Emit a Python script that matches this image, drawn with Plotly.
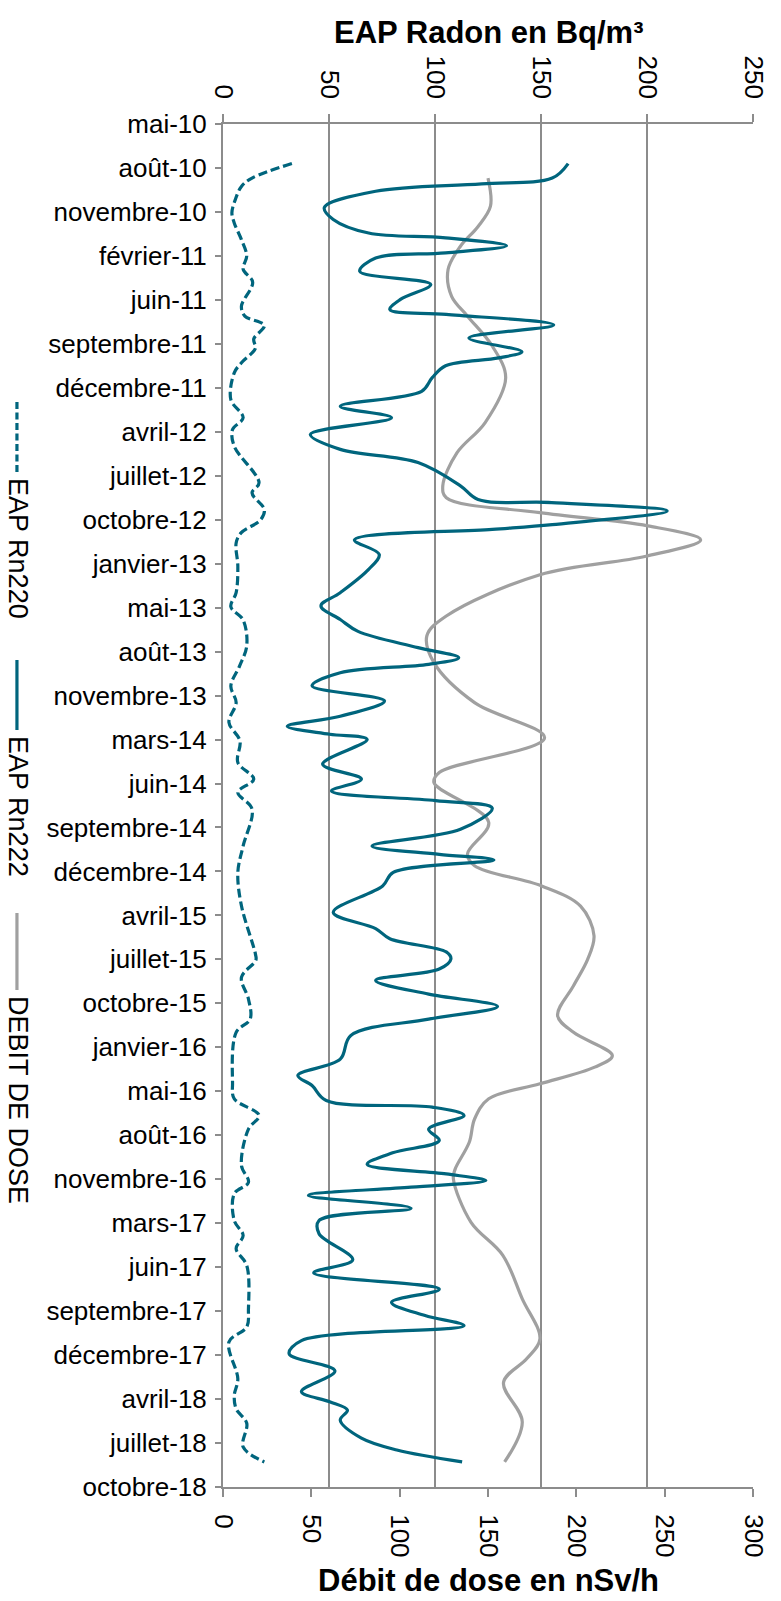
import plotly.graph_objects as go

# ---- axis labels (one every category step) ----
date_labels = ["mai-10", "août-10", "novembre-10", "février-11", "juin-11", "septembre-11",
               "décembre-11", "avril-12", "juillet-12", "octobre-12", "janvier-13", "mai-13",
               "août-13", "novembre-13", "mars-14", "juin-14", "septembre-14", "décembre-14",
               "avril-15", "juillet-15", "octobre-15", "janvier-16", "mai-16", "août-16",
               "novembre-16", "mars-17", "juin-17", "septembre-17", "décembre-17", "avril-18",
               "juillet-18", "octobre-18"]
date_pos = list(range(len(date_labels)))

# ---- EAP Rn220 (Bq/m3) : position on date axis, value ----
rn220_t = [0.90, 1.23, 1.42, 1.72, 2.02, 2.25, 2.63, 3.00, 3.30, 3.60, 4.14, 4.37, 4.58, 4.89, 5.10,
           5.43, 5.66, 6.27, 6.68, 6.95, 7.33, 8.16, 8.39, 8.77, 9.00, 9.30, 9.53, 10.06, 10.66,
           10.98, 11.28, 11.87, 12.33, 12.78, 13.16, 13.61, 14.03, 14.52, 14.90, 15.20, 15.58,
           16.42, 17.02, 17.78, 18.88, 19.02, 19.41, 19.90, 20.36, 20.66, 21.80, 22.17, 22.55,
           22.86, 23.69, 24.07, 24.33, 24.94, 25.28, 25.58, 25.96, 26.95, 27.36, 27.70, 28.54,
           28.92, 29.22, 29.55, 30.09, 30.43]
rn220_v = [32.5, 13.7, 8.7, 5.8, 4.2, 5.3, 8.7, 11.2, 9.5, 14.0, 8.7, 10.3, 19.5, 14.5, 15.3,
           8.7, 5.3, 3.7, 9.5, 4.5, 5.3, 17.0, 13.7, 19.5, 17.8, 8.5, 6.2, 7.0, 6.2,
           3.7, 9.5, 11.2, 7.8, 3.7, 6.2, 2.8, 8.0, 7.0, 14.5, 7.0, 13.7,
           9.5, 7.0, 8.7, 15.3, 15.5, 8.7, 12.0, 12.8, 6.2, 4.5, 5.3, 17.0,
           12.0, 8.7, 12.0, 5.3, 5.3, 9.5, 6.2, 11.2, 12.0, 11.2, 2.8, 7.0,
           5.3, 6.2, 11.2, 9.5, 19.5]

# ---- EAP Rn222 (Bq/m3) ----
rn222_t = [0.90, 1.23, 1.36, 1.53, 1.90, 2.17, 2.48, 2.59, 2.77, 2.93, 3.05, 3.35, 3.65, 3.99,
           4.22, 4.33, 4.57, 4.87, 5.18, 5.32, 5.50, 5.77, 6.08, 6.42, 6.68, 7.06, 7.40, 7.70,
           8.23, 8.54, 8.61, 8.80, 9.11, 9.22, 9.46, 9.79, 10.13, 10.66, 10.96, 11.27, 11.54,
           11.91, 12.14, 12.29, 12.48, 12.78, 13.12, 13.47, 13.70, 13.88, 14.00, 14.56, 14.90,
           15.17, 15.39, 15.56, 16.04, 16.42, 16.61, 16.74, 17.02, 17.33, 17.93, 18.30, 18.53,
           18.83, 18.99, 19.22, 19.48, 19.79, 20.07, 20.36, 20.73, 21.27, 21.64, 21.87, 22.21,
           22.36, 22.55, 22.86, 23.12, 23.40, 23.66, 23.88, 24.03, 24.18, 24.37, 24.66, 24.94,
           25.24, 25.83, 26.13, 26.50, 26.80, 27.10, 27.33, 27.67, 27.97, 28.36, 28.83, 29.06,
           29.25, 29.48, 29.89, 30.16, 30.43]
rn222_v = [162.8, 155.3, 122.0, 72.0, 47.8, 52.0, 68.7, 105.0, 133.7, 105.0, 72.0, 64.5, 98.0, 83.7,
           78.7, 105.3, 156.0, 116.0, 141.0, 130.0, 105.0, 98.7, 93.7, 55.3, 79.5, 41.2, 55.3, 92.0,
           112.0, 120.3, 155.0, 209.5, 155.3, 127.0, 62.0, 73.7, 68.7, 55.3, 46.2, 55.3, 63.7,
           92.0, 111.2, 97.0, 55.3, 42.0, 76.2, 55.3, 30.3, 50.3, 68.0, 47.0, 65.3,
           51.2, 100.3, 127.0, 112.0, 70.3, 102.0, 127.8, 80.3, 75.3, 52.0, 72.0, 78.7,
           105.3, 107.5, 102.0, 72.0, 97.0, 129.5, 97.0, 60.3, 55.3, 35.3, 42.0, 48.7,
           98.7, 113.7, 97.0, 102.0, 80.0, 68.0, 105.3, 124.0, 88.7, 40.3, 88.7, 45.3,
           45.3, 61.2, 42.8, 102.0, 79.5, 95.3, 113.7, 37.0, 31.2, 52.8, 37.0, 50.3,
           58.7, 55.3, 65.3, 82.0, 112.8]

# ---- Débit de dose (nSv/h) ----
dose_t = [1.23, 1.87, 2.33, 2.78, 3.31, 3.92, 4.37, 5.05, 5.77, 6.79, 7.48, 8.23, 8.50, 8.84, 9.14,
          9.46, 9.83, 10.25, 11.19, 11.64, 12.25, 13.16, 13.96, 14.75, 14.98, 15.88, 16.60, 16.87,
          17.33, 17.79, 18.46, 19.00, 19.60, 20.28, 20.66, 21.19, 21.45, 21.83, 22.17, 22.63,
          23.16, 23.77, 23.99, 24.98, 25.73, 26.72, 27.63, 28.08, 28.62, 29.52, 30.43]
dose_v = [150.0, 151.4, 144.4, 134.4, 127.4, 129.4, 138.4, 152.4, 160.0, 148.4, 132.4, 124.4, 126.4,
          179.4, 240.4, 270.4, 239.4, 179.4, 126.4, 115.4, 119.4, 142.4, 182.0, 122.4, 119.4, 150.4,
          138.4, 142.4, 180.4, 202.4, 210.0, 206.4, 198.4, 189.4, 198.4, 220.4, 210.4, 179.4, 150.4,
          142.4, 139.4, 131.4, 130.4, 140.4, 158.4, 169.4, 179.4, 172.0, 158.8, 169.4, 159.4]

bottom_ticks = [0, 50, 100, 150, 200, 250, 300]
top_ticks = [0, 50, 100, 150, 200, 250]

TEAL = "#00657D"
GREY = "#A0A0A0"
AXIS = "#8C8C8C"
FONT = "Liberation Sans"

W, H = 781, 1601
ML, MR, MT, MB = 223, 23, 124, 114
PW, PH = W - ML - MR, H - MT - MB


def px_x(px):
    return (px - ML) / PW


def px_y(py):
    return 1 - (py - MT) / PH


fig = go.Figure()
fig.add_trace(go.Scatter(x=dose_v, y=dose_t, xaxis="x", yaxis="y", mode="lines",
                         name="DEBIT DE DOSE", line=dict(color=GREY, width=3.2, shape="spline", smoothing=1.0)))
fig.add_trace(go.Scatter(x=rn222_v, y=rn222_t, xaxis="x2", yaxis="y", mode="lines",
                         name="EAP Rn222", line=dict(color=TEAL, width=3.2, shape="spline", smoothing=1.0)))
fig.add_trace(go.Scatter(x=rn220_v, y=rn220_t, xaxis="x2", yaxis="y", mode="lines",
                         name="EAP Rn220", line=dict(color=TEAL, width=3.2, dash="9px,4px",
                                                      shape="spline", smoothing=1.0)))

fig.update_layout(
    width=W, height=H,
    margin=dict(l=ML, r=MR, t=MT, b=MB, pad=0),
    paper_bgcolor="white", plot_bgcolor="white",
    showlegend=False,
    font=dict(family=FONT, size=26, color="black"),
    xaxis=dict(range=[0, 300], tickvals=bottom_ticks, ticktext=[str(v) for v in bottom_ticks],
               side="bottom", showgrid=False, zeroline=False, showline=True, linecolor=AXIS,
               linewidth=2, ticks="outside", ticklen=8, tickwidth=2, tickcolor=AXIS,
               tickangle=90, tickfont=dict(size=26), ticklabelstandoff=12),
    xaxis2=dict(range=[0, 250], tickvals=top_ticks, ticktext=[str(v) for v in top_ticks],
                overlaying="x", side="top", showgrid=True, gridcolor=AXIS, gridwidth=2,
                zeroline=False, showline=True, linecolor=AXIS, linewidth=2, ticks="outside",
                ticklen=8, tickwidth=2, tickcolor=AXIS, tickangle=90, tickfont=dict(size=26),
                ticklabelstandoff=6),
    yaxis=dict(range=[31, 0], tickvals=date_pos, ticktext=date_labels, showgrid=False,
               zeroline=False, showline=True, linecolor=AXIS, linewidth=2, ticks="outside",
               ticklen=6, tickwidth=2, tickcolor=AXIS, tickfont=dict(size=26),
               ticklabelstandoff=3),
)

annotations = [
    dict(text="<b>EAP Radon en Bq/m³</b>", xref="paper", yref="paper", x=0.5, y=px_y(32),
         xanchor="center", yanchor="middle", showarrow=False, font=dict(size=31)),
    dict(text="<b>Débit de dose en nSv/h</b>", xref="paper", yref="paper", x=0.5, y=px_y(1580),
         xanchor="center", yanchor="middle", showarrow=False, font=dict(size=31)),
]
legend_items = [
    ("EAP Rn220", TEAL, "7px,3.5px", 402, 472, 549),
    ("EAP Rn222", TEAL, "solid", 660, 730, 807),
    ("DEBIT DE DOSE", GREY, "solid", 913, 990, 1100),
]
shapes = []
for label, color, dash, y0, y1, yc in legend_items:
    shapes.append(dict(type="line", xref="paper", yref="paper", x0=px_x(15), x1=px_x(15),
                       y0=px_y(y0), y1=px_y(y1), line=dict(color=color, width=3.2, dash=dash)))
    annotations.append(dict(text=label, xref="paper", yref="paper", x=px_x(16), y=px_y(yc),
                            xanchor="center", yanchor="middle", textangle=90, showarrow=False,
                            font=dict(size=27)))
fig.update_layout(annotations=annotations, shapes=shapes)

fig.write_html("out.html")
